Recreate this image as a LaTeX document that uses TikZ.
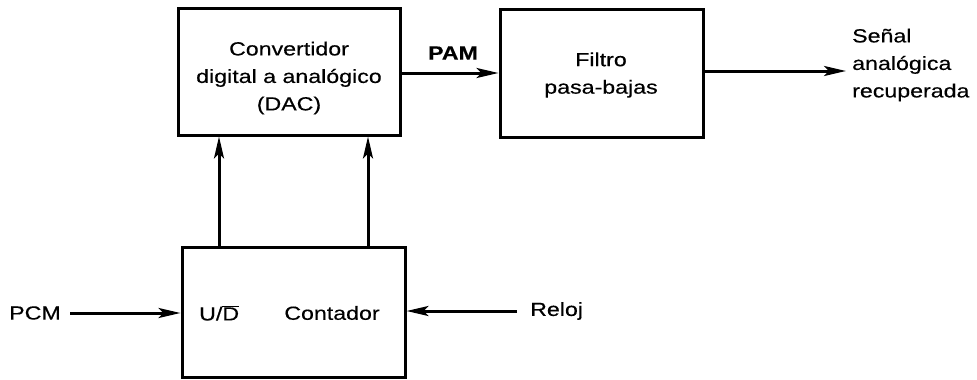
\documentclass[tikz,border=0pt]{standalone}
\usepackage{fontspec}
\setmainfont{Liberation Sans}[FakeStretch=1.22, FakeBold=0.35]
\usetikzlibrary{arrows.meta}
\begin{document}
\begin{tikzpicture}[x=1pt,y=-1pt,
  blk/.style={draw, line width=3pt, inner sep=0pt},
  txt/.style={font=\fontsize{19}{27.5}\selectfont, inner sep=0pt, align=center},
  con/.style={line width=3pt, -{Stealth[length=22pt,width=10pt,inset=5pt]}}]
\useasboundingbox (0,0) rectangle (977,380);
% boxes
\node[blk, minimum width=222pt, minimum height=127pt] (dac) at (289,71.5) {};
\node[txt] (dactxt) at (289,78) {Convertidor\\digital a analógico\\(DAC)};
\node[blk, minimum width=203pt, minimum height=128pt] (lpf) at (601.5,73) {};
\node[txt] (lpftxt) at (601,75) {Filtro\\pasa-bajas};
\node[blk, minimum width=223pt, minimum height=130pt] (cnt) at (293.5,312) {};
\node[txt, anchor=west] (ud) at (199,313) {U/$\overline{\mbox{D}}$};
\node[txt] (conttxt) at (332,313) {Contador};
% labels
\node[txt] (pcm) at (35,313) {PCM};
\node[txt, anchor=west] (reloj) at (530,311) {Reloj};
\node[txt, font=\fontsize{19}{27.5}\selectfont\bfseries] (pam) at (453,53) {PAM};
\node[txt, align=left, anchor=west] (out) at (852,65) {Señal\\analógica\\recuperada};
\coordinate (pcmend) at (70,313);
\coordinate (relojend) at (517,311);
\coordinate (outend) at (846,71);
% connectors
\draw[con] (cnt.north -| 219,0) -- (dac.south -| 219,0);
\draw[con] (cnt.north -| 368,0) -- (dac.south -| 368,0);
\draw[con] (dac.east |- 0,73) -- (lpf.west |- 0,73);
\draw[con] (lpf.east |- 0,71) -- (outend);
\draw[con] (pcmend) -- (cnt.west |- pcmend);
\draw[con] (relojend) -- (cnt.east |- relojend);
\end{tikzpicture}
\end{document}
